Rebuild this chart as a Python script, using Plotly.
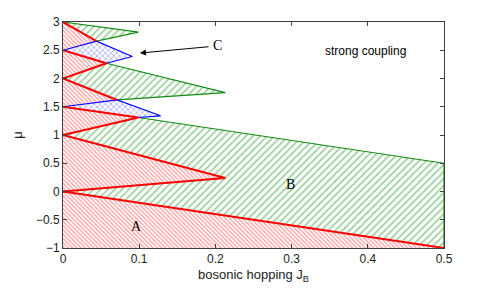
import plotly.graph_objects as go

# ---- data ----
# Mott-lobe (red, phase A) tips and edges on the mu axis
red_lobe_base_lo = [0.0, 1.0, 1.5, 2.0, 2.5]
red_lobe_base_hi = [1.0, 1.5, 2.0, 2.5, 3.0]
red_lobe_tip_x = [0.213, 0.099, 0.071, 0.057, 0.044]
red_lobe_tip_y = [0.24, 1.31, 1.62, 2.27, 2.66]

# region A (below the line from (0,0) to (0.5,-1))
regA_x = [0.0, 0.5, 0.0]
regA_y = [-1.0, -1.0, 0.0]

# green (phase B) regions
greenB_x = [0.0, 0.5, 0.5, 0.099, 0.0, 0.213, 0.0]
greenB_y = [0.0, -1.0, 0.5, 1.31, 1.0, 0.24, 0.0]
green2_x = [0.0, 0.071, 0.213, 0.057, 0.0]
green2_y = [2.0, 1.62, 1.75, 2.27, 2.0]
green3_x = [0.0, 0.099, 0.044, 0.0]
green3_y = [3.0, 2.82, 2.66, 3.0]

# blue (phase C) lobes at half filling
blue1_x = [0.0, 0.071, 0.128, 0.099, 0.0]
blue1_y = [1.5, 1.62, 1.34, 1.31, 1.5]
blue2_x = [0.0, 0.044, 0.091, 0.057, 0.0]
blue2_y = [2.5, 2.66, 2.39, 2.27, 2.5]

x_ticks = [0, 0.1, 0.2, 0.3, 0.4, 0.5]
x_ticklabels = ["0", "0.1", "0.2", "0.3", "0.4", "0.5"]
y_ticks = [-1, -0.5, 0, 0.5, 1, 1.5, 2, 2.5, 3]
y_ticklabels = ["\u22121", "\u22120.5", "0", "0.5", "1", "1.5", "2", "2.5", "3"]

RED = "#ff0000"
GREEN = "#138a13"
BLUE = "#0000ff"

fig = go.Figure()


def poly(xs, ys, color, shape, size, solidity):
    fig.add_trace(go.Scatter(
        x=xs, y=ys, mode="lines", fill="toself",
        line=dict(width=0, color=color),
        fillcolor="rgba(0,0,0,0)",
        fillpattern=dict(shape=shape, fgcolor=color, bgcolor="white",
                         size=size, solidity=solidity),
        hoverinfo="skip", showlegend=False))


def edge(xs, ys, color, width):
    fig.add_trace(go.Scatter(x=xs, y=ys, mode="lines",
                             line=dict(color=color, width=width),
                             hoverinfo="skip", showlegend=False))


# red fills
poly(regA_x, regA_y, "#ff3030", "\\", 3, 0.4)
for lo, hi, tx, ty in zip(red_lobe_base_lo, red_lobe_base_hi, red_lobe_tip_x, red_lobe_tip_y):
    poly([0, tx, 0, 0], [lo, ty, hi, lo], "#ff3030", "\\", 3, 0.4)

# green fills
poly(greenB_x, greenB_y, "#2ca02c", "/", 5, 0.33)
poly(green2_x, green2_y, "#2ca02c", "/", 5, 0.33)
poly(green3_x, green3_y, "#2ca02c", "/", 5, 0.33)

# blue fills
poly(blue1_x, blue1_y, BLUE, "x", 4, 0.25)
poly(blue2_x, blue2_y, BLUE, "x", 4, 0.25)

# green edges
edge([greenB_x[1], greenB_x[2], greenB_x[3]], [greenB_y[1], greenB_y[2], greenB_y[3]], GREEN, 1.2)
edge(green2_x[1:4], green2_y[1:4], GREEN, 1.2)
edge(green3_x[0:3], green3_y[0:3], GREEN, 1.2)

# blue edges
edge(blue1_x[0:4], blue1_y[0:4], BLUE, 1.2)
edge(blue2_x[0:4], blue2_y[0:4], BLUE, 1.2)

# red edges
edge([regA_x[2], regA_x[1]], [regA_y[2], regA_y[1]], RED, 2)
edge([0, red_lobe_tip_x[0], 0], [red_lobe_base_lo[0], red_lobe_tip_y[0], red_lobe_base_hi[0]], RED, 2)
edge([0, red_lobe_tip_x[1], 0], [red_lobe_base_lo[1], red_lobe_tip_y[1], red_lobe_base_hi[1]], RED, 2)
edge([0, red_lobe_tip_x[2]], [red_lobe_base_hi[2], red_lobe_tip_y[2]], RED, 2)
edge([0, red_lobe_tip_x[3], 0], [red_lobe_base_lo[3], red_lobe_tip_y[3], red_lobe_base_hi[3]], RED, 2)
edge([0, red_lobe_tip_x[4]], [red_lobe_base_hi[4], red_lobe_tip_y[4]], RED, 2)

serif = dict(family="Liberation Serif, Times New Roman, serif", size=14, color="black")
sans = dict(family="Liberation Sans, Arial, Helvetica, sans-serif", size=12, color="black")

fig.add_annotation(x=0.097, y=-0.62, text="A", showarrow=False, font=serif)
fig.add_annotation(x=0.298, y=0.13, text="B", showarrow=False, font=serif)
fig.add_annotation(x=0.203, y=2.59, text="C", showarrow=False, font=serif)
fig.add_annotation(x=0.101, y=2.45, ax=0.193, ay=2.565, axref="x", ayref="y",
                   text="", showarrow=True, arrowhead=2, arrowsize=1.2,
                   arrowwidth=1, arrowcolor="black")
fig.add_annotation(x=0.397, y=2.49, text="strong coupling", showarrow=False, font=sans)

axis_common = dict(showline=True, linecolor="#404040", linewidth=1, mirror="ticks",
                   ticks="inside", ticklen=4, tickcolor="#404040",
                   showgrid=False, zeroline=False, automargin=False,
                   tickfont=dict(family="Liberation Sans, Arial, sans-serif", size=12, color="#222"))

# page body has an 8 px margin, so the figure is drawn 8 px in from the corner
fig.update_layout(
    width=483, height=284,
    margin=dict(l=55, r=47, t=14, b=44),
    paper_bgcolor="white", plot_bgcolor="white",
    showlegend=False,
    xaxis=dict(range=[0, 0.5], tickvals=x_ticks, ticktext=x_ticklabels,
               title=dict(text="bosonic hopping J<sub>B</sub>", standoff=4,
                          font=dict(family="Liberation Sans, Arial, sans-serif", size=13, color="#222")),
               **axis_common),
    yaxis=dict(range=[-1, 3], tickvals=y_ticks, ticktext=y_ticklabels,
               title=dict(text="\u03bc", standoff=10,
                          font=dict(family="Liberation Sans, Arial, sans-serif", size=13, color="#222")),
               **axis_common),
)

fig.write_html("out.html")
